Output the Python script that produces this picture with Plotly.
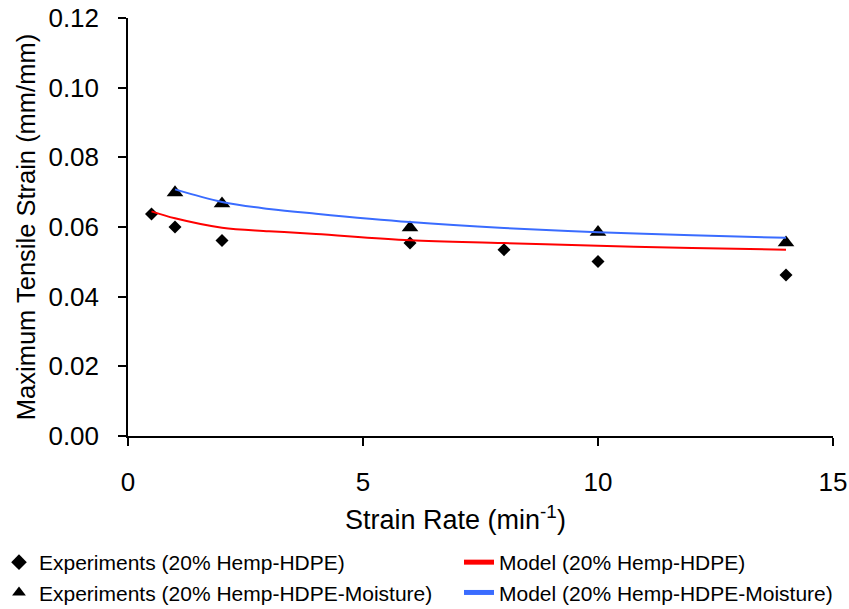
import plotly.graph_objects as go

# Experimental measurements
exp_rate = [0.5, 1, 2, 6, 8, 10, 14]
exp_strain = [0.0637, 0.0600, 0.0561, 0.0554, 0.0535, 0.0501, 0.0462]

exp_m_rate = [1, 2, 6, 10, 14]
exp_m_strain = [0.0699, 0.0667, 0.0598, 0.0585, 0.0555]

# Model predictions
mod_rate = [0.5, 1, 2, 3, 4, 6, 8, 10, 12, 14]
mod_strain = [0.0645, 0.0625, 0.0598, 0.0588, 0.0580, 0.0562, 0.0554, 0.0546, 0.0540, 0.0535]

mod_m_rate = [1, 2, 3, 4, 6, 8, 10, 12, 14]
mod_m_strain = [0.0708, 0.0672, 0.0652, 0.0638, 0.0614, 0.0597, 0.0585, 0.0576, 0.0569]

x_ticks = [0, 5, 10, 15]
y_ticks = [0.00, 0.02, 0.04, 0.06, 0.08, 0.10, 0.12]

FONT = "Liberation Sans, Arial, sans-serif"

fig = go.Figure()
fig.add_trace(go.Scatter(
    x=exp_rate, y=exp_strain, mode="markers",
    name="Experiments (20% Hemp-HDPE)", legend="legend",
    marker=dict(symbol="diamond", size=10, color="black"),
))
fig.add_trace(go.Scatter(
    x=exp_m_rate, y=exp_m_strain, mode="markers",
    name="Experiments (20% Hemp-HDPE-Moisture)", legend="legend",
    marker=dict(symbol="triangle-up", size=14.5, color="black"),
))
fig.add_trace(go.Scatter(
    x=mod_rate, y=mod_strain, mode="lines", line_shape="spline",
    name="Model (20% Hemp-HDPE)", legend="legend2",
    line=dict(color="#ff0000", width=2),
))
fig.add_trace(go.Scatter(
    x=mod_m_rate, y=mod_m_strain, mode="lines", line_shape="spline",
    name="Model (20% Hemp-HDPE-Moisture)", legend="legend2",
    line=dict(color="#3a6cff", width=2),
))

legend_style = dict(
    orientation="v", yanchor="top", xanchor="left", y=-0.2536,
    font=dict(size=21, family=FONT), traceorder="normal",
    itemsizing="constant", bgcolor="rgba(0,0,0,0)",
)

fig.update_layout(
    width=849, height=609,
    margin=dict(l=128, r=16, t=18, b=173, autoexpand=False),
    plot_bgcolor="white", paper_bgcolor="white",
    font=dict(family=FONT, color="black"),
    legend=dict(legend_style, x=-0.183),
    legend2=dict(legend_style, x=0.4695),
    showlegend=True,
    annotations=[dict(
        text="Strain Rate (min<sup>-1</sup>)", xref="paper", yref="paper",
        x=0.305, xanchor="left", y=-0.197, yanchor="middle",
        showarrow=False, font=dict(size=27, family=FONT, color="black"),
    )],
)
fig.update_xaxes(
    range=[0, 15], tickvals=x_ticks, ticktext=[str(v) for v in x_ticks],
    showline=True, linecolor="black", linewidth=1.5,
    ticks="outside", ticklen=8, tickwidth=1.5, tickcolor="black",
    showgrid=False, zeroline=False, ticklabelstandoff=14,
    tickfont=dict(size=26),
)
fig.update_yaxes(
    range=[0, 0.12], tickvals=y_ticks, ticktext=[f"{v:.2f}" for v in y_ticks],
    showline=True, linecolor="black", linewidth=1.5,
    ticks="outside", ticklen=8, tickwidth=1.5, tickcolor="black",
    showgrid=False, zeroline=False, ticklabelstandoff=14,
    tickfont=dict(size=26),
    title=dict(text="Maximum Tensile Strain (mm/mm)", font=dict(size=25.5), standoff=6),
)

fig.write_html("out.html")
